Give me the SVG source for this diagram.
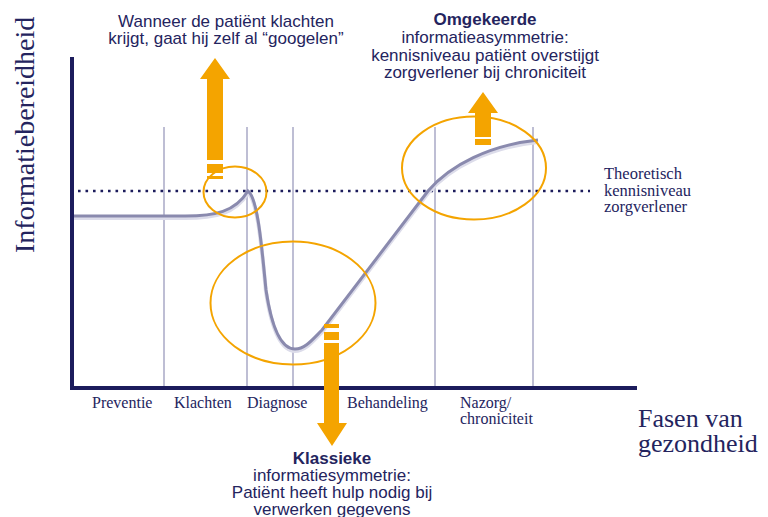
<svg xmlns="http://www.w3.org/2000/svg" width="768" height="517" viewBox="0 0 768 517">
<style>
.sans{font-family:"Liberation Sans",Arial,sans-serif;font-size:17px;fill:#24245e;text-anchor:middle}
.serif{font-family:"Liberation Serif","Times New Roman",serif;fill:#24245e}
.grid{stroke:#a9a9c6;stroke-width:1.5}
.ell{fill:none;stroke:#f4a400;stroke-width:2}
.arrow{fill:#f4a400}
</style>
<rect width="768" height="517" fill="#fff"/>
<g id="grid">
<line class="grid" x1="164" y1="127" x2="164" y2="386"/>
<line class="grid" x1="247" y1="127" x2="247" y2="386"/>
<line class="grid" x1="293" y1="127" x2="293" y2="386"/>
<line class="grid" x1="435" y1="127" x2="435" y2="386"/>
<line class="grid" x1="533" y1="127" x2="533" y2="386"/>
</g>
<g id="reference-line">
<line x1="78" y1="191" x2="590" y2="191" stroke="#1c1c5c" stroke-width="2.6" stroke-dasharray="2.6 4.9" stroke-linecap="butt"/>
</g>
<g id="curve">
<path d="M72,218 L185,218 C215,218 235,214 248,193 C258,200 262,252 266,292 C272,332 282,351 295,351 C305,351 312,342 322,332 L428,193 C450,167 490,147 538,142" fill="none" stroke="#dcdcea" stroke-width="4"/>
<path d="M72,216 L185,216 C215,216 235,212 248,191 C258,198 262,250 266,290 C272,330 282,349 295,349 C305,349 312,340 322,330 L428,191 C450,165 490,145 538,140" fill="none" stroke="#8a8aae" stroke-width="3"/>
</g>
<g id="axes">
<line x1="72" y1="57" x2="72" y2="390" stroke="#1c1c5c" stroke-width="4"/>
<line x1="70" y1="388" x2="637" y2="388" stroke="#1c1c5c" stroke-width="4"/>
</g>
<g id="ellipses">
<ellipse class="ell" cx="235" cy="192" rx="31.5" ry="25.5"/>
<ellipse class="ell" cx="293" cy="303" rx="82.5" ry="61.5"/>
<ellipse class="ell" cx="474" cy="168" rx="72" ry="51.5"/>
</g>
<g id="arrow-googelen">
<polygon class="arrow" points="215,58 230,79 223,79 223,160 207,160 207,79 200,79"/>
<rect class="arrow" x="207" y="164" width="16" height="9"/>
<rect class="arrow" x="207" y="176" width="16" height="3"/>
</g>
<g id="arrow-klassiek">
<rect class="arrow" x="324" y="324" width="15" height="4"/>
<rect class="arrow" x="324" y="332" width="15" height="8"/>
<polygon class="arrow" points="324,343 339,343 339,423 347,423 332,446 317,423 324,423"/>
</g>
<g id="arrow-omgekeerd">
<polygon class="arrow" points="483,92 498,113 491,113 491,137 475,137 475,113 468,113"/>
<rect class="arrow" x="475" y="139" width="16" height="6"/>
</g>
<g id="label-googelen">
<text class="sans" x="226" y="27">Wanneer de patiënt klachten</text>
<text class="sans" x="226" y="44">krijgt, gaat hij zelf al “googelen”</text>
</g>
<g id="label-omgekeerd">
<text class="sans" x="485" y="25" font-weight="bold">Omgekeerde</text>
<text class="sans" x="485" y="43">informatieasymmetrie:</text>
<text class="sans" x="485" y="61">kennisniveau patiënt overstijgt</text>
<text class="sans" x="485" y="78">zorgverlener bij chroniciteit</text>
</g>
<g id="label-klassiek">
<text class="sans" x="332" y="464" font-weight="bold">Klassieke</text>
<text class="sans" x="332" y="481">informatiesymmetrie:</text>
<text class="sans" x="332" y="498">Patiënt heeft hulp nodig bij</text>
<text class="sans" x="332" y="515">verwerken gegevens</text>
</g>
<g id="label-theoretisch">
<text class="serif" font-size="16.5" x="604" y="179">Theoretisch</text>
<text class="serif" font-size="16.5" x="604" y="196">kennisniveau</text>
<text class="serif" font-size="16.5" x="604" y="212">zorgverlener</text>
</g>
<g id="phases">
<text class="serif" font-size="16" x="92" y="408">Preventie</text>
<text class="serif" font-size="16" x="174" y="408">Klachten</text>
<text class="serif" font-size="16" x="247" y="408">Diagnose</text>
<text class="serif" font-size="16" x="347" y="408">Behandeling</text>
<text class="serif" font-size="16" x="460" y="408">Nazorg/</text>
<text class="serif" font-size="16" x="460" y="424">chroniciteit</text>
</g>
<g id="axis-labels">
<text class="serif" font-size="28" transform="translate(34,253) rotate(-90)">Informatiebereidheid</text>
<text class="serif" font-size="26" x="638" y="427">Fasen van</text>
<text class="serif" font-size="26" x="638" y="452">gezondheid</text>
</g>
</svg>
